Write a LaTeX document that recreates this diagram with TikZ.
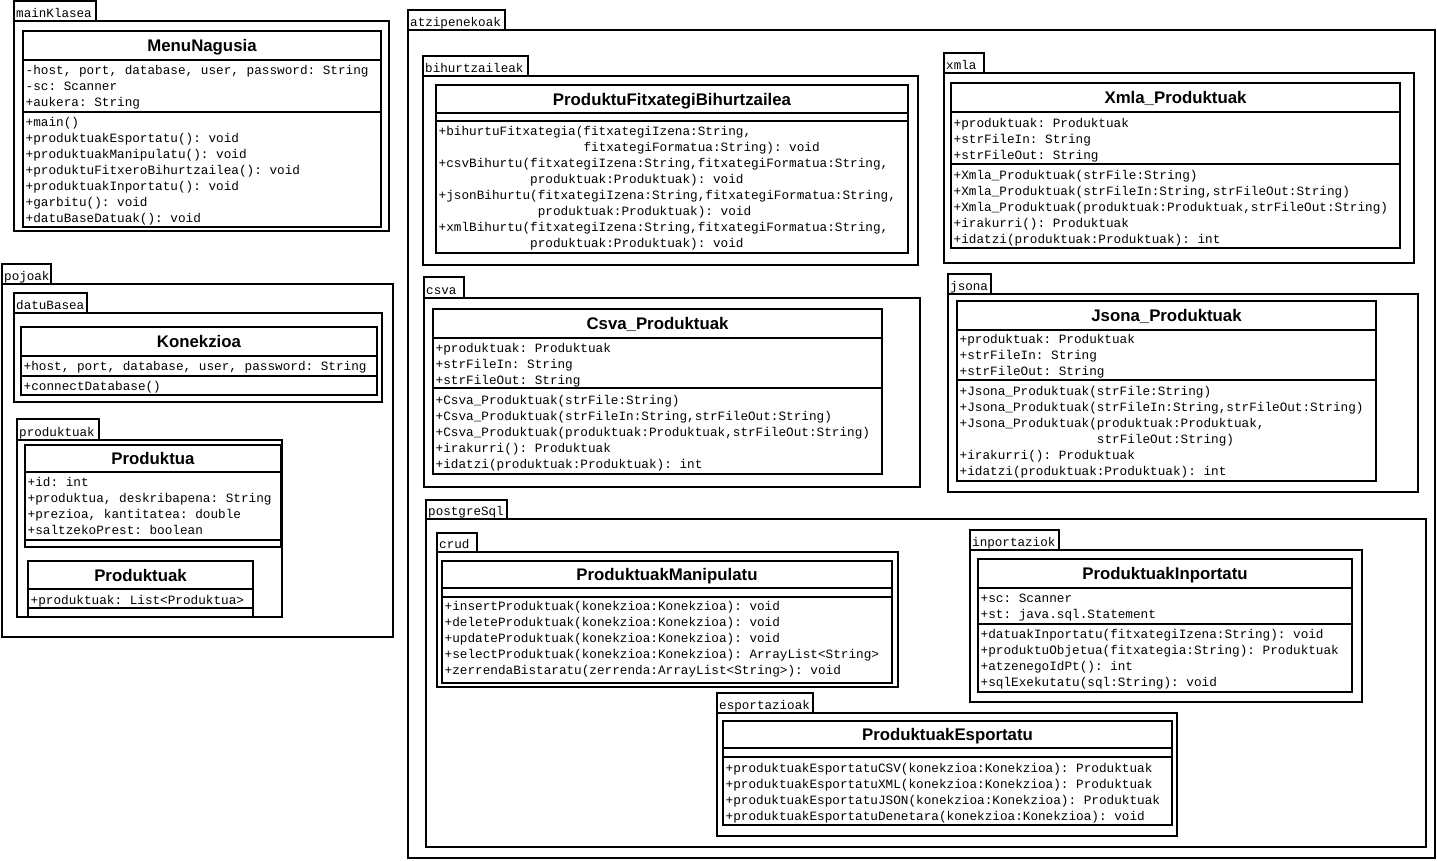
\documentclass[tikz,border=0pt]{standalone}
\usepackage{fontspec}
\newfontfamily\umlmono{Liberation Mono}
\newfontfamily\umlsans{Liberation Sans}

% package: name, label, left x, tab top, tab right, box top, box right, box bottom
\newcommand{\umlpkg}[8]{%
  \node[pkgtab, minimum width={#5-#3}, minimum height={#6-#4}] (#1-tab) at (#3,#4) {};
  \node[pkgbox, minimum width={#7-#3}, minimum height={#8-#6}] (#1) at (#3,#6) {};
  \node[pkglabel] (#1-label) at ({#3+2},{#6-4}) {#2};
}
% class: name, title, x1, y1, x2, y2, first separator, second separator
\newcommand{\umlcls}[8]{%
  \node[clsbox, minimum width={#5-#3}, minimum height={#6-#4}] (#1) at (#3,#4) {};
  \draw[clssep] (#3,#7) -- (#5,#7);
  \draw[clssep] (#3,#8) -- (#5,#8);
  \node[clstitle] (#1-title) at ({(#3+#5)/2},{(#4+#7)/2+6}) {#2};
}
% member rows: name prefix, box left x, centre y of first row, list of rows
\newcommand{\umlrows}[4]{%
  \foreach \rowtext [count=\rowno] in {#4}{%
    \node[clsrow] (#1-\rowno) at ({#2+2.5},{#3+4+16*(\rowno-1)}) {\rowtext};
  }%
}

\begin{document}
\frenchspacing
\begin{tikzpicture}[x=1pt,y=-1pt,
  pkgtab/.style={draw, line width=2pt, inner sep=0pt, outer sep=0pt, anchor=north west},
  pkgbox/.style={draw, line width=2.5pt, inner sep=0pt, outer sep=0pt, anchor=north west},
  pkglabel/.style={anchor=base west, inner sep=0pt, font=\umlmono\frenchspacing\fontsize{12.6}{15}\selectfont},
  clsbox/.style={draw, line width=2.7pt, inner sep=0pt, outer sep=0pt, anchor=north west},
  clssep/.style={line width=2.2pt},
  clstitle/.style={anchor=base, inner sep=0pt, font=\umlsans\bfseries\fontsize{16.8}{20}\selectfont},
  clsrow/.style={anchor=base west, inner sep=0pt, font=\umlmono\frenchspacing\fontsize{12.7}{15}\selectfont}]

\fill[white] (0,0) rectangle (1437,860);
\useasboundingbox (0,0) rectangle (1437,860);

% ---------- packages ----------
\umlpkg{pk-main}{mainKlasea}{14}{1}{96}{21}{389}{231}
\umlpkg{pk-pojoak}{pojoak}{2}{264}{51}{284}{393}{637}
\umlpkg{pk-datubasea}{datuBasea}{14}{293}{87}{313}{382}{402}
\umlpkg{pk-produktuak}{produktuak}{17}{419}{99}{440}{282}{617}
\umlpkg{pk-atzipen}{atzipenekoak}{408}{10}{505}{30}{1435}{858}
\umlpkg{pk-bihurtz}{bihurtzaileak}{423}{56}{528}{76}{918}{265}
\umlpkg{pk-xmla}{xmla}{944}{53}{984}{73}{1414}{263}
\umlpkg{pk-csva}{csva}{424}{277}{464}{298}{920}{487}
\umlpkg{pk-jsona}{jsona}{948}{274}{991}{294}{1418}{492}
\umlpkg{pk-postgre}{postgreSql}{426}{500}{507}{519}{1426}{847}
\umlpkg{pk-crud}{crud}{437}{533}{477}{552}{898}{687}
\umlpkg{pk-inport}{inportaziok}{970}{530}{1059}{550}{1362}{702}
\umlpkg{pk-esport}{esportazioak}{717}{693}{813}{713}{1177}{836}

% ---------- classes ----------
\umlcls{menu}{MenuNagusia}{23}{31}{381}{227}{60}{112}
\umlrows{menu-a}{23}{70}{{-host, port, database, user, password: String},{-sc: Scanner},{+aukera: String}}
\umlrows{menu-m}{23}{122}{{+main()},{+produktuakEsportatu(): void},{+produktuakManipulatu(): void},{+produktuFitxeroBihurtzailea(): void},{+produktuakInportatu(): void},{+garbitu(): void},{+datuBaseDatuak(): void}}

\umlcls{konekzioa}{Konekzioa}{21}{327}{377}{395}{356}{376}
\umlrows{konekzioa-a}{21}{366}{{+host, port, database, user, password: String}}
\umlrows{konekzioa-m}{21}{386}{{+connectDatabase()}}

\umlcls{produktua}{Produktua}{25}{445}{281}{547}{472}{540}
\umlrows{produktua-a}{25}{482}{{+id: int},{+produktua, deskribapena: String},{+prezioa, kantitatea: double},{+saltzekoPrest: boolean}}

\umlcls{produktuak}{Produktuak}{28}{561}{253}{617}{589}{608}
\umlrows{produktuak-a}{28}{600}{{+produktuak: List<Produktua>}}

\umlcls{bihurtz}{ProduktuFitxategiBihurtzailea}{436}{85}{908}{253}{113}{121}
\umlrows{bihurtz-m}{436}{131}{{+bihurtuFitxategia(fitxategiIzena:String,},{\phantom{+bihurtuFitxategia(}fitxategiFormatua:String): void},{+csvBihurtu(fitxategiIzena:String,fitxategiFormatua:String,},{\phantom{+csvBihurtu(}produktuak:Produktuak): void},{+jsonBihurtu(fitxategiIzena:String,fitxategiFormatua:String,},{\phantom{+jsonBihurtu(}produktuak:Produktuak): void},{+xmlBihurtu(fitxategiIzena:String,fitxategiFormatua:String,},{\phantom{+xmlBihurtu(}produktuak:Produktuak): void}}

\umlcls{xmlap}{Xmla\_Produktuak}{951}{83}{1400}{248}{112}{164}
\umlrows{xmlap-a}{951}{123}{{+produktuak: Produktuak},{+strFileIn: String},{+strFileOut: String}}
\umlrows{xmlap-m}{951}{175}{{+Xmla\_Produktuak(strFile:String)},{+Xmla\_Produktuak(strFileIn:String,strFileOut:String)},{+Xmla\_Produktuak(produktuak:Produktuak,strFileOut:String)},{+irakurri(): Produktuak},{+idatzi(produktuak:Produktuak): int}}

\umlcls{csvap}{Csva\_Produktuak}{433}{309}{882}{474}{338}{388}
\umlrows{csvap-a}{433}{348}{{+produktuak: Produktuak},{+strFileIn: String},{+strFileOut: String}}
\umlrows{csvap-m}{433}{400}{{+Csva\_Produktuak(strFile:String)},{+Csva\_Produktuak(strFileIn:String,strFileOut:String)},{+Csva\_Produktuak(produktuak:Produktuak,strFileOut:String)},{+irakurri(): Produktuak},{+idatzi(produktuak:Produktuak): int}}

\umlcls{jsonap}{Jsona\_Produktuak}{957}{301}{1376}{481}{330}{380}
\umlrows{jsonap-a}{957}{339}{{+produktuak: Produktuak},{+strFileIn: String},{+strFileOut: String}}
\umlrows{jsonap-m}{957}{391}{{+Jsona\_Produktuak(strFile:String)},{+Jsona\_Produktuak(strFileIn:String,strFileOut:String)},{+Jsona\_Produktuak(produktuak:Produktuak,},{\phantom{+Jsona\_Produktuak(}strFileOut:String)},{+irakurri(): Produktuak},{+idatzi(produktuak:Produktuak): int}}

\umlcls{manip}{ProduktuakManipulatu}{442}{561}{892}{683}{588}{597}
\umlrows{manip-m}{442}{606}{{+insertProduktuak(konekzioa:Konekzioa): void},{+deleteProduktuak(konekzioa:Konekzioa): void},{+updateProduktuak(konekzioa:Konekzioa): void},{+selectProduktuak(konekzioa:Konekzioa): ArrayList<String>},{+zerrendaBistaratu(zerrenda:ArrayList<String>): void}}

\umlcls{inport}{ProduktuakInportatu}{978}{559}{1352}{692}{588}{624}
\umlrows{inport-a}{978}{598}{{+sc: Scanner},{+st: java.sql.Statement}}
\umlrows{inport-m}{978}{634}{{+datuakInportatu(fitxategiIzena:String): void},{+produktuObjetua(fitxategia:String): Produktuak},{+atzenegoIdPt(): int},{+sqlExekutatu(sql:String): void}}

\umlcls{esport}{ProduktuakEsportatu}{723}{721}{1172}{825}{748}{757}
\umlrows{esport-m}{723}{768}{{+produktuakEsportatuCSV(konekzioa:Konekzioa): Produktuak},{+produktuakEsportatuXML(konekzioa:Konekzioa): Produktuak},{+produktuakEsportatuJSON(konekzioa:Konekzioa): Produktuak},{+produktuakEsportatuDenetara(konekzioa:Konekzioa): void}}

\end{tikzpicture}
\end{document}
